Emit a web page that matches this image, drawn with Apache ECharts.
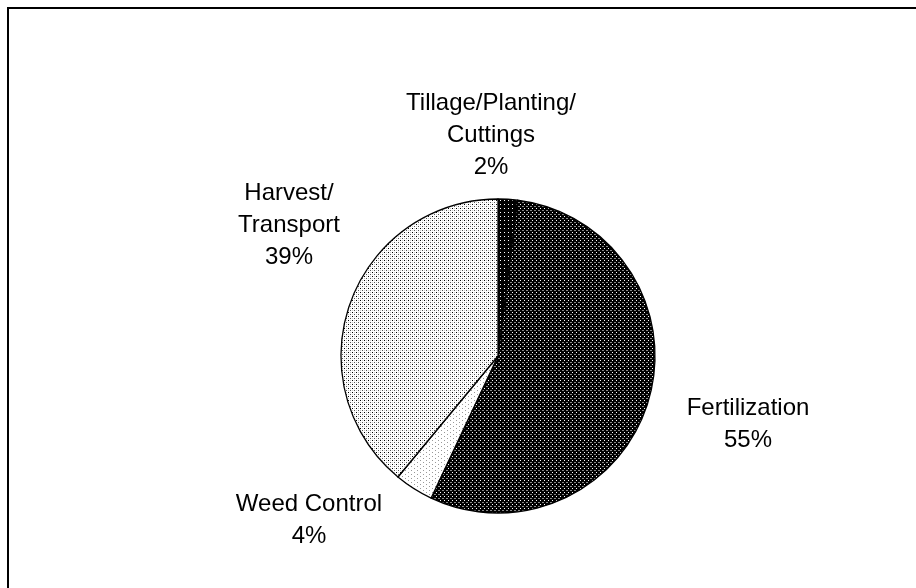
<!DOCTYPE html>
<html>
<head>
<meta charset="utf-8">
<script src="https://cdn.jsdelivr.net/npm/echarts@6/dist/echarts.min.js"></script>
<style>
html,body{margin:0;padding:0;background:#fff;}
#chart{width:916px;height:588px;}
</style>
</head>
<body>
<div id="chart"></div>
<script>
// ---- data ----
var categories = ['Tillage/Planting/\nCuttings', 'Fertilization', 'Weed Control', 'Harvest/\nTransport'];
var values = [2, 55, 4, 39];

// ---- styling helpers ----
function makePattern(w, h, bg, dots) {
  var c = document.createElement('canvas');
  c.width = w; c.height = h;
  var ctx = c.getContext('2d');
  ctx.fillStyle = bg; ctx.fillRect(0, 0, w, h);
  dots.forEach(function (d) {
    ctx.fillStyle = d[2];
    ctx.fillRect(d[0], d[1], d[3] || 1, 1);
  });
  return { image: c, repeat: 'repeat' };
}
var patterns = [
  makePattern(4, 4, '#000', [[0, 0, '#fff']]),
  makePattern(4, 4, '#000', [[0, 0, '#fff'], [2, 2, '#888', 2]]),
  makePattern(6, 4, '#fff', [[0, 0, '#999'], [3, 2, '#999']]),
  makePattern(4, 4, '#fff', [[0, 0, '#000'], [2, 2, '#555'], [0, 2, '#ccc'], [2, 0, '#ccc']])
];
var labelPos = [[491, 135], [748, 424], [309, 520], [289, 225]];

var chart = echarts.init(document.getElementById('chart'), null, { renderer: 'canvas' });
var option = {
  backgroundColor: '#fff',
  animation: false,
  graphic: [{
    type: 'rect',
    shape: { x: 8, y: 8, width: 1000, height: 1000 },
    style: { fill: 'none', stroke: '#000', lineWidth: 2 },
    silent: true
  }],
  series: [{
    type: 'pie',
    center: [498, 356],
    radius: 157,
    startAngle: 90,
    clockwise: true,
    avoidLabelOverlap: false,
    data: categories.map(function (c, i) {
      return { name: c, value: values[i], itemStyle: { color: patterns[i] } };
    }),
    itemStyle: { borderColor: '#000', borderWidth: 1.3 },
    label: {
      show: true,
      formatter: function (p) { return p.name + '\n' + p.value + '%'; },
      fontFamily: 'Liberation Sans, Arial, sans-serif',
      fontSize: 24,
      lineHeight: 32,
      color: '#000',
      align: 'center'
    },
    labelLine: { show: false },
    labelLayout: function (params) {
      var p = labelPos[params.dataIndex];
      return { x: p[0], y: p[1], align: 'center', verticalAlign: 'middle' };
    },
    emphasis: { disabled: true }
  }]
};
chart.setOption(option);
</script>
</body>
</html>
